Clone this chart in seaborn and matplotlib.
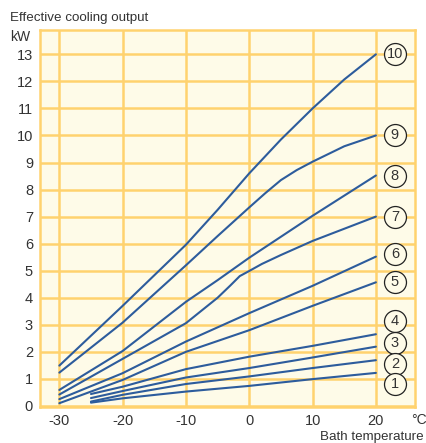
import numpy as np
import pandas as pd
import seaborn as sns
import matplotlib.pyplot as plt

# bath temperature (°C) and effective cooling output (kW)
temp_long = [-30, -20, -10, 0, 10, 20]
temp_short = [-25, -20, -10, 0, 10, 20]

curve_10_t = [-30, -20, -10, -5, 0, 5, 10, 15, 20]
curve_10 = [1.49, 3.70, 5.96, 7.25, 8.60, 9.85, 11.0, 12.07, 13.0]
curve_9_t = [-30, -20, -10, -5, 0, 2.5, 5, 7.5, 10, 15, 20]
curve_9 = [1.23, 3.08, 5.20, 6.28, 7.34, 7.86, 8.35, 8.72, 9.03, 9.6, 10.0]
curve_8_t = [-30, -20, -10, -5, 0, 10, 20]
curve_8 = [0.59, 2.03, 3.85, 4.65, 5.48, 7.03, 8.52]
curve_7_t = [-30, -20, -10, -5, -3, -1.5, 0, 2, 5, 10, 20]
curve_7 = [0.42, 1.74, 3.06, 4.0, 4.45, 4.8, 4.99, 5.25, 5.58, 6.1, 7.0]
curve_6 = [0.25, 1.21, 2.38, 3.43, 4.44, 5.52]
curve_5 = [0.10, 0.96, 2.00, 2.80, 3.70, 4.57]
curve_4 = [0.44, 0.71, 1.36, 1.82, 2.22, 2.65]
curve_3 = [0.29, 0.55, 1.05, 1.40, 1.79, 2.19]
curve_2 = [0.16, 0.41, 0.81, 1.09, 1.40, 1.69]
curve_1 = [0.12, 0.28, 0.53, 0.74, 0.99, 1.22]

curve_ids = [10, 9, 8, 7, 6, 5, 4, 3, 2, 1]
label_y = [13.0, 10.0, 8.5, 7.0, 5.6, 4.6, 3.15, 2.33, 1.55, 0.8]
label_x = 23.0

x_ticks = [-30, -20, -10, 0, 10, 20]
y_ticks = list(range(0, 14))

curves = {
    10: (curve_10_t, curve_10), 9: (curve_9_t, curve_9), 8: (curve_8_t, curve_8),
    7: (curve_7_t, curve_7), 6: (temp_long, curve_6), 5: (temp_long, curve_5),
    4: (temp_short, curve_4), 3: (temp_short, curve_3), 2: (temp_short, curve_2),
    1: (temp_short, curve_1),
}
rows = []
for cid, (ts, vs) in curves.items():
    for t, v in zip(ts, vs):
        rows.append({"curve": cid, "temp": t, "kw": v})
df = pd.DataFrame(rows)

bg = "#fefbe8"
grid = "#ffd26e"
blue = "#2d5c9c"
txt = "#333333"

sns.set_style("white")
plt.rcParams["font.family"] = ["Liberation Sans", "DejaVu Sans"]
plt.rcParams["axes.unicode_minus"] = False

fig = plt.figure(figsize=(4.27, 4.43), dpi=100)
ax = fig.add_axes([0.0937, 0.0813, 0.8793, 0.851])
ax.set_facecolor(bg)

sns.lineplot(data=df, x="temp", y="kw", hue="curve", units="curve", estimator=None,
             sort=False, palette={c: blue for c in curve_ids}, linewidth=1.5,
             legend=False, ax=ax, zorder=3)

ax.set_xlim(-33.05, 26.25)
ax.set_ylim(-0.04, 13.9)
ax.set_xticks(x_ticks)
ax.set_yticks(y_ticks)
ax.grid(True, color=grid, linewidth=1.8, zorder=0)
ax.set_axisbelow(True)
for s in ax.spines.values():
    s.set_color(grid)
    s.set_linewidth(1.8)
ax.tick_params(length=0, labelsize=10.5, colors=txt, pad=5)
ax.set_xlabel("")
ax.set_ylabel("")

ax.scatter([label_x] * len(label_y), label_y, s=250, facecolor=bg, edgecolor="#222222",
           linewidth=0.9, zorder=4, clip_on=False)
for cid, ly in zip(curve_ids, label_y):
    ax.text(label_x, ly, str(cid), ha="center", va="center", fontsize=10.5,
            color=txt, zorder=5)

fig.text(10 / 427, 1 - 18 / 443, "Effective cooling output", ha="left", va="center",
         fontsize=9.6, color=txt)
fig.text(10 / 427, 1 - 37 / 443, "kW", ha="left", va="center", fontsize=10, color=txt)
fig.text(427 / 427, 1 - 420 / 443, "°C", ha="right", va="center", fontsize=10, color=txt)
fig.text(424 / 427, 1 - 437 / 443, "Bath temperature", ha="right", va="center",
         fontsize=9.6, color=txt)

fig.savefig("out.png", dpi=100, facecolor="white")
